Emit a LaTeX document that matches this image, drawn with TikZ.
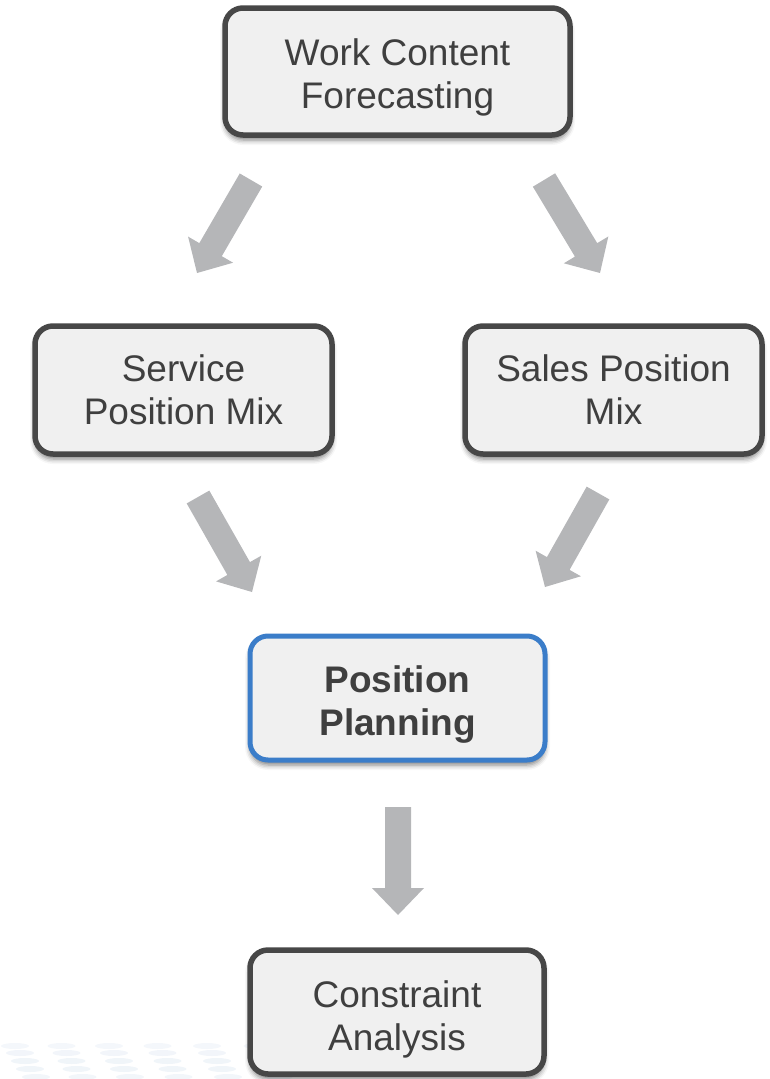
\documentclass[tikz,border=0pt]{standalone}
\usepackage{fontspec}
\setmainfont{Liberation Sans}
\usetikzlibrary{calc,shadows.blur}
\definecolor{boxline}{HTML}{474747}
\definecolor{boxfill}{HTML}{F0F0F0}
\definecolor{hiline}{HTML}{3B7DC9}
\definecolor{arrowgray}{HTML}{B5B6B8}
\definecolor{txt}{HTML}{3F3F3F}
\definecolor{dots}{HTML}{E3EBF4}
\newcommand\blockarr[2]{%
  \coordinate (hb) at ($(#2)!27pt!(#1)$);
  \fill[arrowgray] ($(#1)!13pt!90:(#2)$) -- ($(hb)!13pt!90:(#2)$) -- ($(hb)!26pt!90:(#2)$) -- (#2)
    -- ($(hb)!26pt!-90:(#2)$) -- ($(hb)!13pt!-90:(#2)$) -- ($(#1)!13pt!-90:(#2)$) -- cycle;}
\newcommand\lowr[1]{\rule{0pt}{#1}}
\begin{document}
\begin{tikzpicture}[x=1pt,y=-1pt,
  box/.style={draw=boxline, line width=5.5pt, fill=boxfill, rounded corners=18pt,
    align=center, text=txt, inner sep=0pt,
    font=\fontsize{37}{43}\selectfont,
    blur shadow={shadow xshift=0pt, shadow yshift=-5pt, shadow blur radius=5pt, shadow opacity=50}},
  hibox/.style={box, draw=hiline, line width=5pt, font=\fontsize{37}{43}\selectfont\bfseries}]
\useasboundingbox (0,0) rectangle (770,1079);
% faint background dots
\foreach \yy/\xs/\op in {1046/15/40,1053/20/48,1061/25/52,1069/30/52,1077/36/45}{
  \foreach \k in {0,...,5}{
    \fill[dots, opacity=\op/100] (\xs+\k*46+\k*\k*0.5, \yy) ellipse [x radius=14pt, y radius=3pt];
  }
}
% boxes
\node[box, minimum width=345pt, minimum height=127pt] (wcf) at (397.5,71.5) {\lowr{39pt}Work Content\\Forecasting};
\node[box, minimum width=297pt, minimum height=128pt] (spm) at (183.5,390) {Service\\Position Mix};
\node[box, minimum width=297pt, minimum height=128pt] (slpm) at (613.5,390) {Sales Position\\Mix};
\node[hibox, minimum width=295pt, minimum height=124pt] (pp) at (397.5,698) {\lowr{39pt}Position\\Planning};
\node[box, minimum width=294pt, minimum height=124pt] (ca) at (397,1012) {\lowr{42pt}Constraint\\Analysis};
% block arrows
\coordinate (a1s) at (251,180); \coordinate (a1t) at (197,273);
\coordinate (a2s) at (544,180); \coordinate (a2t) at (600,273);
\coordinate (a3s) at (198,497); \coordinate (a3t) at (252,592);
\coordinate (a4s) at (598,493); \coordinate (a4t) at (545,587);
\coordinate (a5s) at (398,807); \coordinate (a5t) at (398,915);
\blockarr{a1s}{a1t}
\blockarr{a2s}{a2t}
\blockarr{a3s}{a3t}
\blockarr{a4s}{a4t}
\blockarr{a5s}{a5t}
\end{tikzpicture}
\end{document}
